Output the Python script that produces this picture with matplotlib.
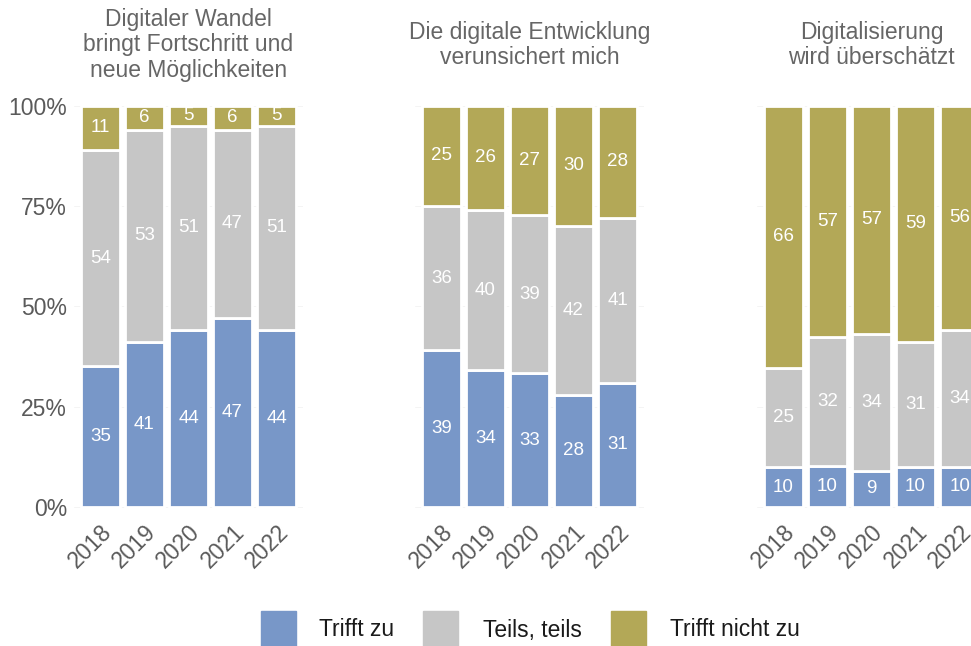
import matplotlib
matplotlib.use("Agg")
import matplotlib.pyplot as plt
from matplotlib.patches import Rectangle
import numpy as np

years = ["2018", "2019", "2020", "2021", "2022"]
titles = [
    "Digitaler Wandel\nbringt Fortschritt und\nneue Möglichkeiten",
    "Die digitale Entwicklung\nverunsichert mich",
    "Digitalisierung\nwird überschätzt",
]
categories = ["Trifft zu", "Teils, teils", "Trifft nicht zu"]
colors = ["#7897c8", "#c6c6c6", "#b3a857"]

# values per panel: rows = categories (bottom to top), columns = years
wandel = [[35, 41, 44, 47, 44],
          [54, 53, 51, 47, 51],
          [11, 6, 5, 6, 5]]
entwicklung = [[39, 34, 33, 28, 31],
               [36, 40, 39, 42, 41],
               [25, 26, 27, 30, 28]]
ueberschaetzt = [[10, 10, 9, 10, 10],
                 [25, 32, 34, 31, 34],
                 [66, 57, 57, 59, 56]]
panels = [wandel, entwicklung, ueberschaetzt]

plt.rcParams["font.family"] = ["Liberation Sans", "DejaVu Sans"]

W, H = 971, 646
fig = plt.figure(figsize=(W / 100, H / 100), dpi=100)

lefts = [74, 415, 757]
ax_w = 229
ax_bottom, ax_top = 511, 101.5

for i, (data, title) in enumerate(zip(panels, titles)):
    ax = fig.add_axes([lefts[i] / W, (H - ax_bottom) / H,
                       ax_w / W, (ax_bottom - ax_top) / H])
    vals = np.array(data, dtype=float)
    shares = vals / vals.sum(axis=0) * 100
    x = np.arange(1, len(years) + 1)
    bottom = np.zeros(len(years))
    for k in range(len(categories)):
        ax.bar(x, shares[k], bottom=bottom, width=0.9, color=colors[k],
               edgecolor="white", linewidth=2.0, zorder=2)
        for xi, b, s, v in zip(x, bottom, shares[k], vals[k]):
            ax.text(xi, b + s / 2, f"{int(v)}", ha="center", va="center",
                    color="white", fontsize=13.5, zorder=3)
        bottom += shares[k]

    ax.set_xlim(0.4, 5.6)
    ax.set_ylim(-1, 101)
    ax.set_yticks([0, 25, 50, 75, 100])
    ax.grid(axis="y", color="#f0f0f0", linewidth=0.5, zorder=0)
    ax.set_xticks(x)
    ax.set_xticklabels(years, rotation=45, ha="right", va="top",
                       rotation_mode="anchor", color="#5a5a5a", fontsize=16.5)
    if i == 0:
        ax.set_yticklabels(["0%", "25%", "50%", "75%", "100%"],
                           color="#5a5a5a", fontsize=16.5)
    else:
        ax.set_yticklabels([])
    ax.tick_params(length=0, pad=5)
    ax.tick_params(axis="x", pad=7)
    for sp in ax.spines.values():
        sp.set_visible(False)
    ty = 1 + (ax_top - 45) / (ax_bottom - ax_top)
    ax.text(0.5, ty, title, transform=ax.transAxes, ha="center", va="center",
            multialignment="center", color="#666666", fontsize=16.5,
            linespacing=1.13)

# legend
keys_x = [261, 423, 611]
text_x = [319, 483, 670]
for kx, tx, c, lab in zip(keys_x, text_x, colors, categories):
    fig.patches.append(Rectangle((kx / W, 0), 35 / W, 35 / H,
                                 transform=fig.transFigure, color=c))
    fig.text(tx / W, (H - 630) / H, lab, ha="left", va="center",
             fontsize=16.5, color="#1a1a1a")

fig.savefig("out.png", dpi=100)
